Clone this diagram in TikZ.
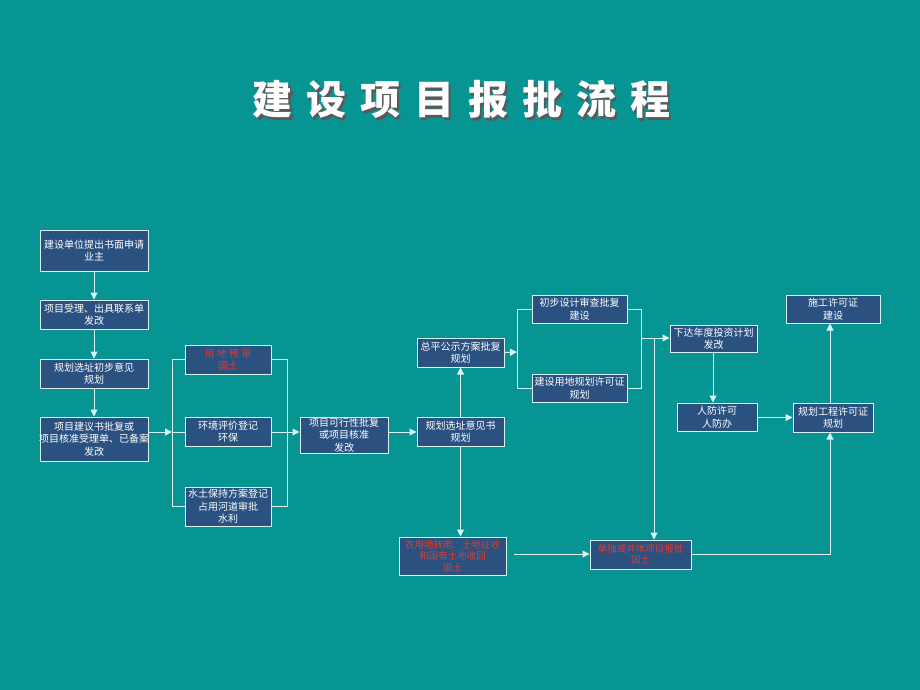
\documentclass[tikz,border=0pt]{standalone}
\usepackage{fontspec}
\setmainfont{Noto Sans CJK SC}
\newfontfamily\titlefont{Noto Sans CJK SC Black}
\usetikzlibrary{arrows.meta}
\definecolor{bg}{HTML}{079594}
\definecolor{bx}{HTML}{2B5181}
\definecolor{ln}{HTML}{D8F4F4}
\definecolor{rd}{HTML}{E03A28}
\tikzset{x=1pt,y=-1pt,
 bxs/.style={draw=ln,line width=1pt,fill=bx,inner sep=0pt},
 red/.style={text=rd},
 cn/.style={draw=ln,line width=1pt},
 ar/.style={cn,-{Triangle[length=7pt,width=7pt]}}}
\newcommand\bx[6]{\node[bxs,#6,minimum width=#4-#2,minimum height=#5-#3] (#1) at ({(#2+#4)/2},{(#3+#5)/2}) {};}
\newcommand\ttl{建\hspace{14pt}设\hspace{14pt}项\hspace{14pt}目\hspace{14pt}报\hspace{14pt}批\hspace{14pt}流\hspace{14pt}程}
\begin{document}
\begin{tikzpicture}
\fill[bg] (0,0) rectangle (920,690);
\node[text=white,font=\titlefont\fontsize{40}{40}\selectfont] (title) at (461,101) {\makebox[0pt][l]{\hspace{3pt}\raisebox{-3pt}{\color{black!65}\ttl}}\ttl};
\bx{A}{40}{230}{148}{271}{}
\bx{B}{40}{300}{148}{329}{}
\bx{C}{40}{359}{148}{388}{}
\bx{D}{40}{417}{148}{461}{}
\bx{E1}{185}{345}{271}{374}{}
\bx{E2}{185}{417}{271}{446}{}
\bx{E3}{185}{487}{271}{526}{}
\bx{F}{300}{417}{388}{453}{}
\bx{G}{417}{417}{504}{446}{}
\bx{H}{417}{338}{504}{367}{}
\bx{I}{532}{295}{627}{323}{}
\bx{J}{532}{374}{627}{402}{}
\bx{K}{670}{325}{757}{352}{}
\bx{L}{677}{403}{757}{431}{}
\bx{M}{793}{403}{873}{432}{}
\bx{N}{786}{295}{880}{323}{}
\bx{P}{399}{537}{506}{575}{}
\bx{Q}{590}{540}{691}{569}{}
\tikzset{t/.style={text=white,font=\fontsize{10}{12.5}\selectfont,align=center,inner sep=0pt}}
\node[t] at (A) {建设单位提出书面申请\\业主};
\node[t] at (B) {项目受理、出具联系单\\发改};
\node[t] at (C) {规划选址初步意见\\规划};
\node[t] at (D) {项目建议书批复或\\项目核准受理单、已备案\\发改};
\node[t,red] at (E1) {用\ 地\ 预\ 审\\国土};
\node[t] at (E2) {环境评价登记\\环保};
\node[t] at (E3) {水土保持方案登记\\占用河道审批\\水利};
\node[t] at (F) {项目可行性批复\\或项目核准\\发改};
\node[t] at (G) {规划选址意见书\\规划};
\node[t] at (H) {总平公示方案批复\\规划};
\node[t] at (I) {初步设计审查批复\\建设};
\node[t] at (J) {建设用地规划许可证\\规划};
\node[t] at (K) {下达年度投资计划\\发改};
\node[t] at (L) {人防许可\\人防办};
\node[t] at (M) {规划工程许可证\\规划};
\node[t] at (N) {施工许可证\\建设};
\node[t,red,font=\fontsize{9.5}{11.5}\selectfont] at (P) {农用地转用、土地征收\\和国有土地收回\\国土};
\node[t,red,font=\fontsize{9.5}{11.5}\selectfont] at (Q) {单独或共体项目报批\\国土};
\coordinate (s1) at (172,432); \coordinate (s1t) at (172,359); \coordinate (s1b) at (172,506);
\coordinate (s2t) at (287,359); \coordinate (s2b) at (287,506);
\coordinate (s3) at (517,352); \coordinate (s3t) at (517,309); \coordinate (s3b) at (517,388);
\coordinate (s4) at (641,338); \coordinate (s4t) at (641,309); \coordinate (s4b) at (641,388);
\coordinate (v) at (654,338);
\coordinate (c1) at (830,554);
\coordinate (p1) at (514,554);
\draw[ar] (A) -- (B); \draw[ar] (B) -- (C); \draw[ar] (C) -- (D);
\draw[ar] (D.east|-s1) -- (s1);
\draw[cn] (s1t) -- (s1b);
\draw[cn] (s1t) -- (E1.west|-s1t); \draw[cn] (s1) -- (E2.west|-s1); \draw[cn] (s1b) -- (E3.west|-s1b);
\draw[cn] (E1.east|-s2t) -- (s2t) -- (s2b) -- (E3.east|-s2b);
\draw[ar] (E2.east|-s1) -- (F.west|-s1);
\draw[ar] (F.east|-s1) -- (G.west|-s1);
\draw[ar] (G) -- (H);
\draw[ar] (G) -- (P.north-|G);
\draw[ar] (H.east) -- (s3);
\draw[cn] (I.west|-s3t) -- (s3t) -- (s3b) -- (J.west|-s3b);
\draw[cn] (I.east|-s4t) -- (s4t) -- (s4b) -- (J.east|-s4b);
\draw[ar] (s4) -- (K.west|-s4);
\draw[ar] (v) -- (Q.north-|v);
\draw[ar] (K.south-|713,0) -- (L.north-|713,0);
\draw[ar] (L.east|-M) -- (M.west);
\draw[ar] (M.north-|c1) -- (N.south-|c1);
\draw[ar] (p1) -- (Q.west|-p1);
\draw[ar] (Q.east|-p1) -- (c1) -- (M.south-|c1);
\end{tikzpicture}
\end{document}
